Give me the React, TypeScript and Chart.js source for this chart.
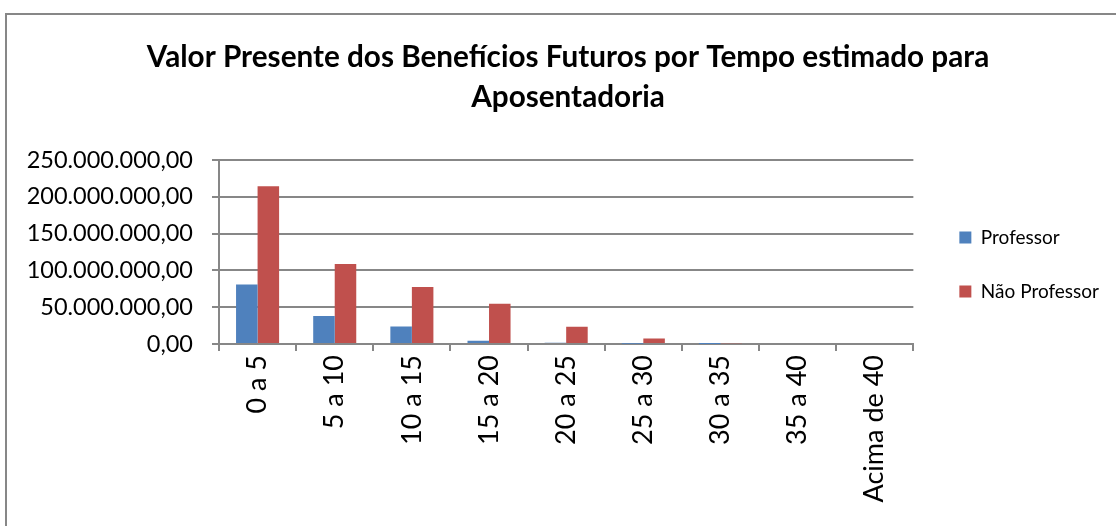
import React, { useEffect, useRef } from "react";
import { Chart, registerables } from "chart.js";

Chart.register(...registerables);

const categories = ["0 a 5", "5 a 10", "10 a 15", "15 a 20", "20 a 25", "25 a 30", "30 a 35", "35 a 40", "Acima de 40"];
const professor = [80800000, 37900000, 23900000, 4500000, 1800000, 400000, 50000, 0, 0];
const naoProfessor = [214500000, 108800000, 77600000, 54600000, 23400000, 7600000, 900000, 0, 0];
const titleLines = ["Valor Presente dos Benefícios Futuros por Tempo estimado para", "Aposentadoria"];
const seriesNames = ["Professor", "Não Professor"];
const yMax = 250000000;
const yStep = 50000000;

const FONT = "Lato";
const PAD_R = 18;
const PAD_L = 14;
const LEGEND_SHIFT = 11;
const TITLE_SHIFT = 12;

const fmt = (v: number) =>
  Math.round(v).toString().replace(/\B(?=(\d{3})+(?!\d))/g, ".") + ",00";

const framePlugin = {
  id: "frame",
  beforeDraw(chart: any) {
    const { ctx, width, height } = chart;
    ctx.save();
    ctx.fillStyle = "#ffffff";
    ctx.fillRect(0, 0, width, height);
    ctx.strokeStyle = "#878787";
    ctx.lineWidth = 2;
    ctx.strokeRect(6, 14, width + 20, height + 20);
    ctx.restore();
  },
};

const shiftPlugin = {
  id: "boxShift",
  afterLayout(chart: any) {
    const l = chart.legend;
    if (l) {
      l.left += LEGEND_SHIFT;
      l.right += LEGEND_SHIFT;
    }
    const t = chart.titleBlock;
    if (t) {
      t.left += TITLE_SHIFT;
      t.right += TITLE_SHIFT;
    }
  },
};

export default function App() {
  const ref = useRef<HTMLCanvasElement>(null);
  useEffect(() => {
    if (!ref.current) return;
    const chart = new Chart(ref.current, {
      type: "bar",
      data: {
        labels: categories,
        datasets: [
          { label: seriesNames[0], data: professor, backgroundColor: "#4F81BD", categoryPercentage: 0.558, barPercentage: 1 },
          { label: seriesNames[1], data: naoProfessor, backgroundColor: "#C0504D", categoryPercentage: 0.558, barPercentage: 1 },
        ],
      },
      options: {
        responsive: false,
        animation: false,
        layout: { padding: { left: PAD_L, right: PAD_R, top: 3, bottom: 0 } },
        plugins: {
          title: {
            display: true,
            text: titleLines,
            color: "#000",
            font: { family: FONT, size: 29.7, weight: "bold", lineHeight: "40px" },
            padding: { top: 34, bottom: 43 },
          },
          legend: {
            position: "right",
            labels: {
              color: "#000",
              font: { family: FONT, size: 19 },
              boxWidth: 12,
              boxHeight: 12,
              padding: 35,
            },
          },
          tooltip: { enabled: false },
        },
        scales: {
          x: {
            grid: { offset: true, drawOnChartArea: false, drawTicks: true, tickLength: 7, color: "#878787", lineWidth: 2 },
            border: { color: "#878787", width: 2 },
            ticks: { color: "#000", font: { family: FONT, size: 27 }, minRotation: 90, maxRotation: 90, padding: 4, autoSkip: false },
            afterFit(scale: any) {
              scale.height = 182;
            },
          },
          y: {
            min: 0,
            max: yMax,
            grid: { color: "#878787", lineWidth: 2, tickLength: 7 },
            border: { color: "#878787", width: 2 },
            ticks: { stepSize: yStep, color: "#000", font: { family: FONT, size: 23.5 }, padding: 19, callback: (v: any) => fmt(Number(v)) },
            afterFit(scale: any) {
              scale.width = 219 - PAD_L;
            },
          },
        },
      },
      plugins: [framePlugin, shiftPlugin],
    });
    return () => chart.destroy();
  }, []);
  return (
    <div style={{ position: "absolute", left: 0, top: 0, width: 1116, height: 526 }}>
      <canvas ref={ref} width={1116} height={526} />
    </div>
  );
}
